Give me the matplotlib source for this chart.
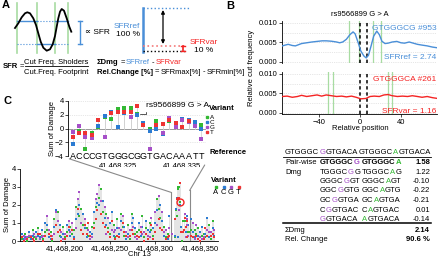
import numpy as np
import matplotlib
matplotlib.use('Agg')
import matplotlib.pyplot as plt
from matplotlib.patches import ConnectionPatch
from matplotlib.lines import Line2D

plt.rcParams['font.family'] = ['Liberation Sans', 'DejaVu Sans']
plt.rcParams['font.size'] = 5.5
plt.rcParams['axes.linewidth'] = 0.6

W, H = 440, 259
BLUE = '#4a8fd8'
RED = '#f42424'
GREEN_LINE = '#a8dca2'
VAR_COLORS = {'A': '#33b833', 'C': '#2b7bd2', 'G': '#a650c8', 'T': '#ee3333'}
BASES = ['A', 'C', 'G', 'T']

# ---- panel A schematic (drawn in pixel-like units)
schem_x = [15, 18.3, 21.7, 25, 27.3, 30, 33.3, 36, 38.3, 40.7, 43.3, 46.7, 50, 52.7,
           55, 56.7, 58.3, 60, 61.7, 64, 66.7, 69.3, 71.3]
schem_y = [28, 23.3, 17.3, 13.3, 12.3, 13.3, 18.3, 25, 33.3, 41.7, 47.7, 50.7, 49.3, 44.3,
           36, 26.7, 18.3, 11.7, 9, 10.7, 18.3, 26.7, 31.7]
schem_edges = [17, 37, 55, 68]
shoulder_y = 21
footprint_y = 44

# ---- panel B: footprint profiles (x1e-3)
snp_name = 'rs9566899 G > A'
rel_pos_ref = [-76, -73, -70, -66, -63, -60, -57, -52, -47, -42, -37, -33, -28, -23, -20, -17,
               -13.5, -10, -7, -5, -2, 0.5, 3.5, 5.8, 8, 10.5, 13, 16, 18.5, 21, 24, 27, 31,
               35.5, 39.5, 43, 47.5, 51.5, 55.5, 60, 65, 70, 75]
freq_ref = [4.07, 4.3, 4.5, 4.2, 4.1, 4.4, 4.7, 4.9, 5.1, 5.25, 5.4, 5.4, 5.3, 5.1, 4.9, 5.1,
            5.8, 7.0, 7.7, 7.2, 4.9, 2.8, 1.5, 1.0, 1.7, 4.1, 6.6, 7.9, 7.0, 5.3, 4.7, 4.8, 5.1,
            5.25, 4.9, 4.8, 5.1, 4.8, 4.5, 4.3, 4.1, 3.8, 3.6]
rel_pos_var = [-76, -71, -66, -61, -57, -52, -47, -42, -37.5, -33, -28, -23, -18, -13.5, -8.5,
               -4, 0.5, 5.5, 9.5, 13.5, 18.5, 23, 27, 31, 36, 41, 46, 50.5, 55.5, 60, 65, 70, 75]
freq_var = [4.2, 4.3, 4.0, 4.2, 4.5, 4.2, 4.4, 4.6, 4.3, 4.6, 4.4, 4.2, 4.3, 4.1, 4.3, 4.0,
            3.6, 3.7, 4.2, 4.3, 4.2, 4.6, 4.7, 4.4, 4.2, 4.3, 4.2, 4.4, 4.2, 4.0, 4.2, 3.9, 3.7]
motif_edges = [0, 6.5]
flank_ref = [-11, -1, 12, 20]
flank_var = [-31, -26, 27, 31]
label_ref, sfr_ref = 'GTGGGCG #953', 2.74
label_var, sfr_var = 'GTGGGCA #261', 1.16

# ---- table
ref_13mer = 'GTGGGCGGTGACA'
var_13mer = 'GTGGGCAGTGACA'
kmer_ref = ['GTGGGCG', 'TGGGCGG', 'GGGCGGT', 'GGCGGTG', 'GCGGTGA', 'CGGTGAC', 'GGTGACA']
kmer_var = ['GTGGGCA', 'TGGGCAG', 'GGGCAGT', 'GGCAGTG', 'GCAGTGA', 'CAGTGAC', 'AGTGACA']
kmer_dmg = [1.58, 1.22, -0.10, -0.22, -0.21, 0.01, -0.14]
sum_dmg = 2.14
rel_change = 90.6

# ---- panel C: sum of damage per variant
chrom_base = 41468000
N = None
inset_seq = 'ACCCGTGGGCGGTGACAAATT'
inset_pos = list(range(318, 339))
inset_A = [N, -0.3, -3.0, -0.7, 0.2, 1.7, 1.4, 2.9, 3.0, 3.0, 2.14, 0.5, 0.0, 1.1, N, 1.1, N, N, N, 0.5, 0.5]
inset_C = [-2.3, N, N, N, 0.3, 1.8, 2.4, 0.2, 2.3, N, 2.0, 0.8, -0.4, -0.1, -0.8, N, 0.5, 1.4, 1.2, 0.9, -0.1]
inset_G = [-0.5, 0.4, -1.3, -1.4, N, -1.2, N, N, N, 1.7, N, N, -3.0, N, -0.6, 1.5, 0.2, 1.2, 0.9, 0.3, -1.5]
inset_T = [-1.3, -0.7, -0.6, -1.0, 1.2, N, 2.3, 2.4, 2.4, 2.4, 3.2, 0.5, N, 0.5, 0.6, 1.3, 0.8, 0.2, 1.1, N, N]
snp_pos, snp_dmg = 328, 2.14

left_pos = list(range(152, 318, 2))
left_A = [.1, N, .4, .0, .2, N, .6, .2, .1, .7, N, .3, .1, .5, .6, N, .5, .0, 1.2, N, 1.6, .3, N, .8,
          .2, .5, N, .8, .4, .6, 1.9, N, 1.4, 1.8, .9, N, .7, .3, N, .8, 1.0, 1.9, N, 2.4, 2.9, 1.6,
          N, 1.5, .7, .4, N, .9, .2, 1.2, N, 1.5, .8, .3, N, .9, .1, 1.5, N, .4, .5, .6, N, 1.4, .2,
          .7, N, 1.0, .6, .3, N, 2.3, 1.8, 1.3, N, .8, .2, .4, N]
left_C = [.4, .1, .2, N, .5, .1, .3, N, .5, .3, .2, .6, N, 1.0, .9, .2, .1, N, .8, 1.7, N, .9, .2, .4,
          N, .9, .6, .3, N, .2, 1.2, 1.5, 2.0, N, 1.5, .7, .2, N, .5, .4, 1.6, N, 2.1, 2.0, N, 2.2,
          1.3, .9, N, 1.0, 1.6, .3, N, .7, .4, 1.1, N, .8, .1, .4, N, 1.0, 1.3, .7, N, 1.0, .3, .8,
          N, 1.1, .6, .5, N, .7, 1.0, 1.7, N, 2.0, 1.1, .3, N, .1, 1.4]
left_G = [N, .3, .1, .2, .3, .3, N, .4, .2, N, .1, .2, .3, N, 1.4, .6, N, .3, .4, 1.6, 1.1, N, .5, .1,
          .4, N, 1.1, .5, 1.0, N, .7, 2.3, 2.7, 1.0, N, 1.2, N, .6, .1, .2, N, 2.3, 2.6, 3.1, 2.2, N,
          1.9, .4, 1.3, N, .6, .5, .6, N, .7, .6, 1.4, N, .5, .2, .6, N, .8, .2, .1, N, .8, .4, .5,
          N, .3, .2, 1.3, N, 1.6, .9, 2.5, N, 1.6, .5, .6, N, .7]
left_T = [.2, .0, N, .1, N, .2, .1, .0, N, .4, .4, N, .0, .3, N, .4, .3, .1, N, .9, .5, .6, .0, N,
          .1, .3, .8, N, .6, .1, N, 1.8, N, .6, .4, .9, .4, 1.0, .3, N, .7, 1.2, 1.7, N, 1.5, 1.0,
          .8, N, .5, .2, 1.1, N, .1, .3, .2, N, 1.0, .5, .3, N, .3, .6, .4, N, .3, .2, .5, N, .0,
          .4, .1, N, .9, .1, .5, N, 1.2, .7, .6, N, .1, .2, .3]
right_pos = list(range(340, 368, 2))
right_A = [.6, N, .6, .4, .7, N, .3, .4, .2, N, .9, .1, 1.1, N]
right_C = [1.2, .5, .2, N, .3, .5, .8, N, .4, 1.3, .2, N, .7, .3]
right_G = [N, 1.0, .1, .9, N, .2, .1, .2, N, .6, .5, .5, N, .6]
right_T = [.3, .2, N, .3, .1, .0, N, .1, .7, .3, N, .3, .4, .2]

fig = plt.figure(figsize=(4.4, 2.59), dpi=100)
renderer = fig.canvas.get_renderer()


def fx(x):
    return x / W


def fy(y):
    return 1 - y / H


def text_w(s, weight='normal', size=5.5):
    if not s:
        return 0.0
    t = fig.text(0, 0, s, fontweight=weight, fontsize=size)
    w = t.get_window_extent(renderer).width
    t.remove()
    return w


def rich(x, y, parts, size=5.5):
    # parts: (text, color, weight, gap after in px)
    for s, c, w, gap in parts:
        fig.text(fx(x), fy(y), s, color=c, fontweight=w, fontsize=size,
                 ha='left', va='center_baseline')
        x += text_w(s, w, size) + gap
    return x


def seq_text(x, y, seq, idx, col, weight='normal', size=5.5):
    # place prefix / coloured base / suffix where they sit in the whole string
    kw = dict(fontsize=size, fontweight=weight, ha='left', va='center_baseline')
    full = text_w(seq, weight, size)
    x_mid = x + text_w(seq[:idx + 1], weight, size) - text_w(seq[idx], weight, size)
    x_suf = x + full - text_w(seq[idx + 1:], weight, size)
    if idx > 0:
        fig.text(fx(x), fy(y), seq[:idx], color='k', **kw)
    fig.text(fx(x_mid), fy(y), seq[idx], color=col, **kw)
    if idx < len(seq) - 1:
        fig.text(fx(x_suf), fy(y), seq[idx + 1:], color='k', **kw)


# ================= Panel A
axA = fig.add_axes([0, fy(80), fx(220), 80 / H])
axA.set_xlim(0, 220)
axA.set_ylim(80, 0)
axA.axis('off')
for gx in schem_edges:
    axA.plot([gx, gx], [3, 53], color=GREEN_LINE, lw=1.2)
axA.plot(schem_edges[:2], [shoulder_y] * 2, color=BLUE, lw=1)
axA.plot(schem_edges[2:], [shoulder_y] * 2, color=BLUE, lw=1)
axA.plot(schem_edges[1:3], [shoulder_y] * 2, color=BLUE, lw=0.8, ls=':')
axA.plot(schem_edges[1:3], [footprint_y] * 2, color=BLUE, lw=1)
axA.plot(schem_edges[:2], [footprint_y] * 2, color=BLUE, lw=0.8, ls=':')
axA.plot(schem_edges[2:], [footprint_y] * 2, color=BLUE, lw=0.8, ls=':')
axA.plot(schem_x, schem_y, color='k', lw=1.3)
axA.plot([80, 80], [shoulder_y, footprint_y], color=BLUE, lw=1)
axA.plot([78, 82], [shoulder_y] * 2, color=BLUE, lw=1)
axA.plot([78, 82], [footprint_y] * 2, color=BLUE, lw=1)
axA.text(85, 33, '\u221d SFR', fontsize=6, va='center')

axA.plot([143, 143], [8, 52], color=BLUE, lw=1.8)
axA.plot([143, 190], [8, 8], color=BLUE, lw=1, ls=':')
axA.plot([143, 185], [46, 46], color='#f47a7a', lw=1.2, ls=':')
axA.plot([143, 185], [51, 51], color='k', lw=1, ls=':')
axA.annotate('', xy=(163, 10), xytext=(163, 44),
             arrowprops=dict(arrowstyle='<|-|>', color='k', lw=0.9, mutation_scale=5,
                             shrinkA=0, shrinkB=0))
axA.plot([183, 183], [46, 51], color=RED, lw=1.2)
axA.plot([181, 185], [46, 46], color=RED, lw=1)
axA.plot([181, 185], [51, 51], color=RED, lw=1)
axA.text(140, 26, 'SFRref', color=BLUE, fontsize=6, ha='right', va='center')
axA.text(140, 34, '100 %', fontsize=6, ha='right', va='center')
axA.text(190, 42, 'SFRvar', color=RED, fontsize=6, ha='left', va='center')
axA.text(194, 50, '10 %', fontsize=6, ha='left', va='center')

fig.text(fx(2), fy(5.5), 'A', fontsize=8, fontweight='bold', va='center')
rich(3, 66, [('SFR', 'k', 'bold', 1.5), ('=', 'k', 'normal', 0)])
fig.text(fx(56), fy(61), 'Cut Freq. Sholders', ha='center', va='center_baseline', fontsize=5.5)
fig.text(fx(56), fy(71), 'Cut.Freq. Footprint', ha='center', va='center_baseline', fontsize=5.5)
fig.add_artist(Line2D([fx(25), fx(88)], [fy(65.5)] * 2, color='k', lw=0.6))
rich(97, 62, [('\u03a3Dmg', 'k', 'bold', 1.5), ('=', 'k', 'normal', 1.5), ('SFRref', BLUE, 'normal', 1.5),
              ('-', 'k', 'normal', 1.5), ('SFRvar', RED, 'normal', 0)])
rich(97, 71, [('Rel.Change [%]', 'k', 'bold', 1.5), ('=', 'k', 'normal', 1.5),
              ('SFRmax[%]', 'k', 'normal', 1.5), ('-', 'k', 'normal', 1.5), ('SFRmin[%]', 'k', 'normal', 0)])

# ================= Panel B
fig.text(fx(226), fy(6), 'B', fontsize=8, fontweight='bold', va='center')
fig.text(fx(360), fy(15), snp_name, ha='center', va='center', fontsize=5.5)
fig.text(fx(251), fy(68), 'Relative cut frequency', rotation=90, ha='center', va='center', fontsize=5.5)
fig.text(fx(360), fy(128), 'Relative position', ha='center', va='center', fontsize=5.5)

prof = [(rel_pos_ref, freq_ref, BLUE, flank_ref, label_ref, f'SFRref = {sfr_ref:.2f}', 63),
        (rel_pos_var, freq_var, RED, flank_var, label_var, f'SFRvar = {sfr_var:.2f}', 114)]
for k, (xs, ys, col, flanks, lab, sfr, bottom) in enumerate(prof):
    ax = fig.add_axes([fx(282), fy(bottom), fx(437) - fx(282), 42 / H])
    ax.set_xlim(-76, 74.5)
    ax.set_ylim(-0.0003, 0.0105)
    for gy in (0, 0.0025, 0.005, 0.0075, 0.01):
        ax.axhline(gy, color='#cfcfcf', lw=0.5, ls=':', zorder=0)
    for fl in flanks:
        ax.axvline(fl, color=GREEN_LINE, lw=0.9, zorder=1)
    for me in motif_edges:
        ax.axvline(me, color='k', lw=1.1, ls=(0, (2.2, 1.8)), zorder=2)
    ax.plot(xs, np.array(ys) * 1e-3, color=col, lw=1, zorder=3)
    ax.set_yticks([0, 0.005, 0.01])
    ax.set_yticklabels(['0.000', '0.005', '0.010'])
    ax.tick_params(length=2, width=0.5, pad=1.5, labelsize=5.5)
    ax.spines['top'].set_visible(False)
    ax.spines['right'].set_visible(False)
    ax.text(0.995, 0.83, lab, color=col, fontsize=6, ha='right', va='center', transform=ax.transAxes)
    ax.text(0.995, 0.12 if k == 0 else 0.06, sfr, color=col, fontsize=6, ha='right', va='center',
            transform=ax.transAxes)
    if k == 0:
        ax.spines['bottom'].set_visible(False)
        ax.set_xticks([])
    else:
        ax.set_xticks([-40, 0, 40])

# ---- table
seq_text(285, 152, ref_13mer, 6, VAR_COLORS['G'])
seq_text(359, 152, var_13mer, 6, VAR_COLORS['A'])
fig.add_artist(Line2D([fx(283), fx(431)], [fy(156.5)] * 2, color='k', lw=0.6))
row_y = [161.5, 171, 180.5, 190, 199.5, 209, 218.5]
for k, (r, v, d) in enumerate(zip(kmer_ref, kmer_var, kmer_dmg)):
    wt = 'bold' if k == 0 else 'normal'
    idx = len(r) - 1 - k
    if k == 0:
        fig.text(fx(285), fy(row_y[k]), 'Pair-wise', va='center_baseline', fontsize=5.5)
    if k == 1:
        fig.text(fx(285), fy(row_y[k]), 'Dmg', va='center_baseline', fontsize=5.5)
    seq_text(320, row_y[k], r, idx, VAR_COLORS['G'], wt)
    seq_text(362, row_y[k], v, idx, VAR_COLORS['A'], wt)
    fig.text(fx(430), fy(row_y[k]), f'{d:.2f}', ha='right', va='center_baseline', fontsize=5.5,
             fontweight=wt)
fig.add_artist(Line2D([fx(283), fx(431)], [fy(223)] * 2, color='k', lw=1.1))
fig.text(fx(285), fy(229), '\u03a3Dmg', va='center_baseline', fontsize=5.5)
fig.text(fx(430), fy(229), f'{sum_dmg:.2f}', ha='right', va='center_baseline', fontsize=5.5,
         fontweight='bold')
fig.text(fx(285), fy(238.5), 'Rel. Change', va='center_baseline', fontsize=5.5)
fig.text(fx(430), fy(238.5), f'{rel_change:.1f} %', ha='right', va='center_baseline', fontsize=5.5,
         fontweight='bold')

# ================= Panel C
fig.text(fx(3), fy(101), 'C', fontsize=8, fontweight='bold', va='center')
inset_vals = dict(zip(BASES, [inset_A, inset_C, inset_G, inset_T]))
left_vals = dict(zip(BASES, [left_A, left_C, left_G, left_T]))
right_vals = dict(zip(BASES, [right_A, right_C, right_G, right_T]))

# inset (zoom)
axI = fig.add_axes([fx(68), fy(158.8), fx(206) - fx(68), (158.8 - 99.6) / H])
axI.set_xlim(317.3, 338.7)
axI.set_ylim(-4.4, 4.2)
for gy in (-2, 2, 4):
    axI.axhline(gy, color='#d0d0d0', lw=0.5, ls=':', zorder=0)
axI.axhline(0, color='#999999', lw=0.7, zorder=1)
for b in BASES:
    v = np.array(inset_vals[b], dtype=float)
    axI.vlines(inset_pos, 0, v, color='#d2d2d2', lw=0.6, zorder=1)
for b in BASES:
    v = np.array(inset_vals[b], dtype=float)
    axI.scatter(inset_pos, v, s=5, marker='s', color=VAR_COLORS[b], lw=0, zorder=3)
for p, base in zip(inset_pos, inset_seq):
    axI.text(p, -4.0, base, ha='center', va='center', fontsize=6.5)
axI.set_yticks([-4, -2, 0, 2, 4])
axI.set_xticks([325, 335])
axI.set_xticklabels([f'{chrom_base + t:,}' for t in (325, 335)])
axI.tick_params(axis='y', length=2, width=0.5, pad=1, labelsize=5.5)
axI.tick_params(axis='x', length=0, pad=2.5, labelsize=5.5)
for s in ('top', 'right', 'bottom'):
    axI.spines[s].set_visible(False)
axI.spines['left'].set_bounds(-4, 4)
axI.annotate(snp_name, xy=(snp_pos, snp_dmg), xytext=(9, 8), textcoords='offset pixels',
             ha='left', va='center', fontsize=6,
             arrowprops=dict(arrowstyle='-', color='#555555', lw=0.7, shrinkA=0, shrinkB=2,
                             relpos=(0, 0.5), connectionstyle='angle,angleA=90,angleB=0,rad=0'))
fig.text(fx(52), fy(129), 'Sum of Damage', rotation=90, ha='center', va='center', fontsize=5.5)

# full region
axL = fig.add_axes([fx(20), fy(241), fx(218) - fx(20), 74 / H])
axL.set_xlim(150, 370)
axL.set_ylim(0, 4.1)
for pos, vals, wd in ((left_pos, left_vals, 2), (inset_pos, inset_vals, 1), (right_pos, right_vals, 2)):
    arr = np.array([vals[b] for b in BASES], dtype=float)
    top = np.clip(np.nanmax(arr, axis=0), 0, None)
    axL.bar(pos, top, width=wd, color='#e4e4e4', lw=0, zorder=1)
for pos, vals in ((left_pos, left_vals), (inset_pos, inset_vals), (right_pos, right_vals)):
    for b in BASES:
        axL.scatter(pos, np.array(vals[b], dtype=float), s=3, marker='s', color=VAR_COLORS[b],
                    lw=0, zorder=3)
axL.plot([snp_pos], [snp_dmg], 'o', ms=5, mfc='none', mec=RED, mew=1, zorder=4)
axL.set_xticks([200, 250, 300, 350])
axL.set_xticklabels([f'{chrom_base + t:,}' for t in (200, 250, 300, 350)])
axL.set_yticks([0, 1, 2, 3, 4])
axL.tick_params(length=2, width=0.5, pad=1, labelsize=5.5)
axL.spines['top'].set_visible(False)
axL.spines['right'].set_visible(False)
axL.spines['left'].set_bounds(0, 4)
fig.text(fx(8), fy(205), 'Sum of Damage', rotation=90, ha='center', va='center', fontsize=5.5)
fig.text(fx(139), fy(255), 'Chr 13', ha='center', va='center', fontsize=5.5)

# zoom connectors
z0, z1 = inset_pos[0] - 0.5, inset_pos[-1] + 0.5
for xa, ya, yb in ((z0, -4.4, 2.7), (z1, -5.3, 2.8)):
    fig.add_artist(ConnectionPatch(xyA=(xa, ya), coordsA=axI.transData, xyB=(xa, yb),
                                   coordsB=axL.transData, color='#8a8a8a', lw=0.8))
    axL.plot([xa, xa], [0, yb], color='#8a8a8a', lw=0.8, zorder=2)

# legends
fig.text(fx(209), fy(109), 'Variant', fontweight='bold', va='center', fontsize=5.5)
for k, b in enumerate(BASES):
    yy = 117 + 5.0 * k
    fig.add_artist(Line2D([fx(207)], [fy(yy)], marker='s', ms=1.8, color=VAR_COLORS[b], lw=0))
    fig.text(fx(210), fy(yy), b, va='center_baseline', fontsize=4.5)
fig.text(fx(209), fy(153), 'Reference', fontweight='bold', va='center', fontsize=5.5)
fig.text(fx(211), fy(180), 'Variant', fontweight='bold', va='center', fontsize=5.5)
for k, b in enumerate(BASES):
    xx = 216 + 7.5 * k
    fig.add_artist(Line2D([fx(xx)], [fy(186.5)], marker='s', ms=1.8, color=VAR_COLORS[b], lw=0))
    fig.text(fx(xx), fy(193), b, ha='center', va='center', fontsize=5.5)

fig.savefig('out.png', dpi=100)
